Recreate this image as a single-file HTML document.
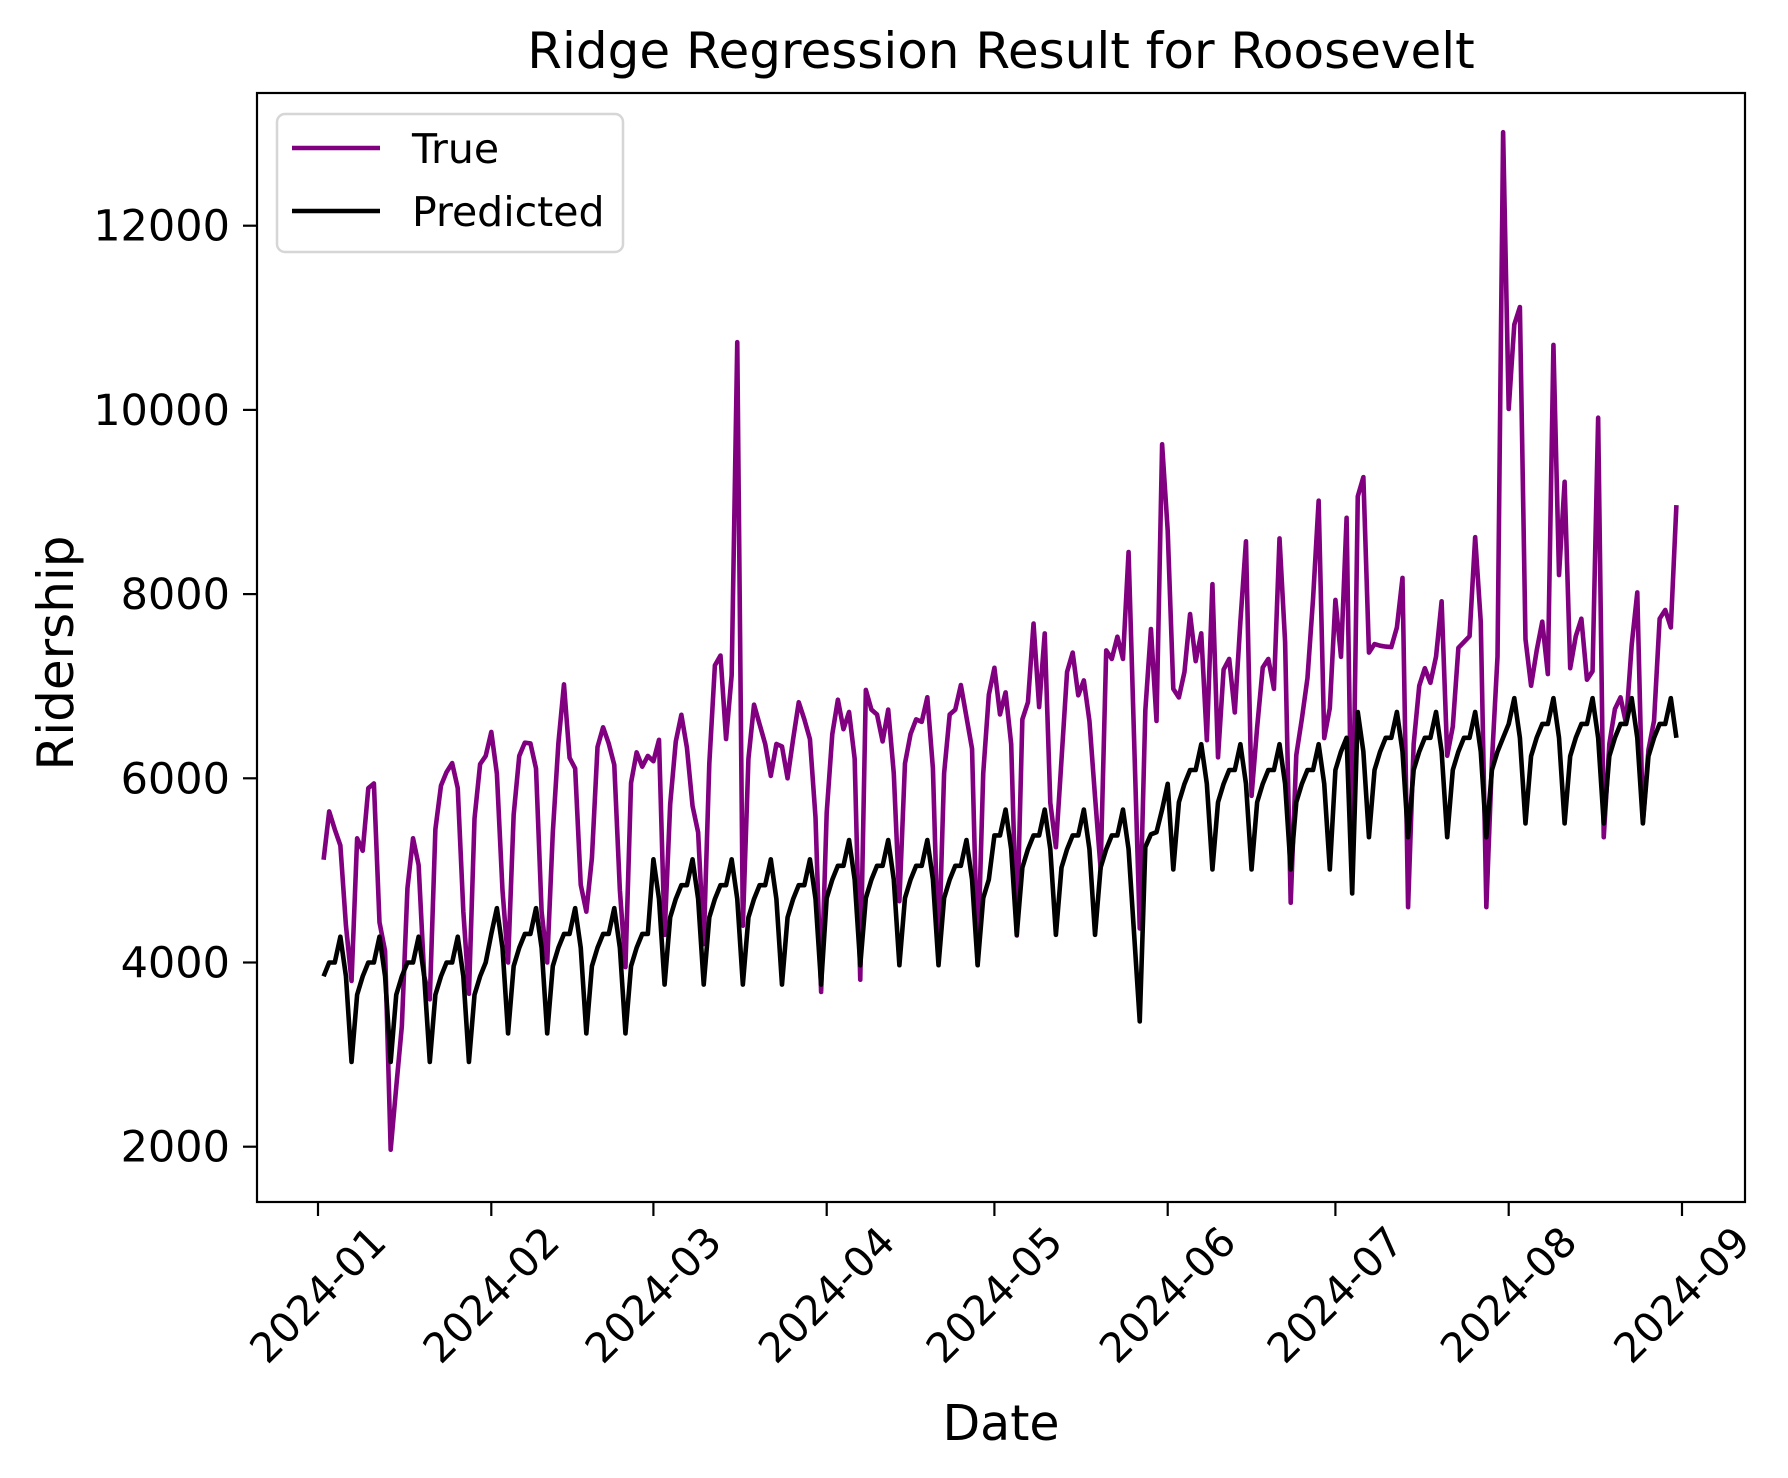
<!DOCTYPE html>
<html><head><meta charset="utf-8"><style>
html,body{margin:0;padding:0;background:#fff;}
svg{display:block;font-family:"DejaVu Sans","Liberation Sans",sans-serif;}
</style></head><body>
<svg id="chart" width="1788" height="1478" viewBox="0 0 1788 1478" xmlns="http://www.w3.org/2000/svg">
<rect x="0" y="0" width="1788" height="1478" fill="#fff"/>
<text x="1001" y="68" font-size="50" text-anchor="middle" fill="#000">Ridge Regression Result for Roosevelt</text>
<g id="plot"></g>
<rect x="257" y="93" width="1488" height="1109" fill="none" stroke="#000" stroke-width="2.2"/>
<g id="yticks"></g>
<g id="xticks"></g>
<text x="1001" y="1440" font-size="49" text-anchor="middle" fill="#000">Date</text>
<text x="0" y="0" font-size="50" text-anchor="middle" fill="#000" transform="translate(73,653) rotate(-90)">Ridership</text>
<g>
<rect x="277" y="114" width="346" height="138" rx="8" fill="#fff" fill-opacity="0.8" stroke="#d6d6d6" stroke-width="2.5"/>
<line x1="292" y1="148" x2="380" y2="148" stroke="#800080" stroke-width="4.6"/>
<text x="412" y="163" font-size="41" fill="#000">True</text>
<line x1="292" y1="211" x2="380" y2="211" stroke="#000" stroke-width="4.6"/>
<text x="412" y="226" font-size="41" fill="#000">Predicted</text>
</g>
</svg>
<script>
// day offsets from 2024-01-01; first value is 2024-01-02 (offset 1)
const startOffset = 1;
const trueValues = [
5116,5640,5446,5271,4400,3800,5349,5213,5893,5944,4436,4125,1968,2650,3309,4805,5349,5058,3853,3600,
5446,5920,6068,6165,5893,4552,3660,5563,6154,6243,6503,6049,4786,4000,5602,6243,6387,6379,6107,4552,
4000,5407,6379,7020,6223,6107,4844,4552,5135,6340,6554,6379,6146,4786,3950,5951,6282,6126,6243,6185,
6418,4300,5718,6398,6690,6330,5700,5413,4200,6160,7226,7333,6426,7120,10735,4400,6213,6800,6586,6373,
6026,6373,6346,6000,6427,6826,6640,6426,5573,3680,5626,6480,6853,6533,6720,6213,3813,6960,6746,6693,
6400,6746,6053,4666,6160,6480,6640,6613,6880,6106,4026,6053,6693,6746,7013,6666,6320,3973,6053,6906,
7200,6693,6933,6373,4293,6640,6826,7680,6773,7573,5733,5252,6200,7156,7365,6901,7063,6622,5800,5020,
7389,7296,7537,7296,8457,6400,4370,6738,7621,6622,9627,8689,6971,6878,7156,7783,7272,7574,6414,8108,
6228,7180,7296,6715,7700,8573,5810,6553,7203,7296,6971,8605,7481,4649,6251,6646,7087,7946,9014,6437,
6762,7937,7319,8828,4900,9061,9270,7365,7458,7440,7430,7425,7638,8176,4601,6372,7005,7195,7037,7321,
7922,6246,6562,7417,7480,7543,8618,7701,4601,6183,7322,13015,10010,10927,11117,7511,7005,7385,7701,7132,
10706,8207,9219,7195,7543,7733,7070,7163,9915,5360,6372,6752,6879,6594,7448,8018,5519,6310,6626,7733,
7828,7638,8966
];
const predictedValues = [
3850,4000,4000,4280,3850,2920,
3650,3850,4000,4000,4280,3850,2920,
3650,3850,4000,4000,4280,3850,2920,
3650,3850,4000,4000,4280,3850,2920,
3650,3850,4000,
4310,4590,4160,3230,
3960,4160,4310,4310,4590,4160,3230,
3960,4160,4310,4310,4590,4160,3230,
3960,4160,4310,4310,4590,4160,3230,
3960,4160,4310,4310,
5120,4690,3760,
4490,4690,4840,4840,5120,4690,3760,
4490,4690,4840,4840,5120,4690,3760,
4490,4690,4840,4840,5120,4690,3760,
4490,4690,4840,4840,5120,4690,3760,
4700,4900,5050,5050,5330,4900,3970,
4700,4900,5050,5050,5330,4900,3970,
4700,4900,5050,5050,5330,4900,3970,
4700,4900,5050,5050,5330,4900,3970,
4700,4900,
5380,5380,5660,5230,4300,
5030,5230,5380,5380,5660,5230,4300,
5030,5230,5380,5380,5660,5230,4300,
5030,5230,5380,5380,5660,5230,4300,
3360,5253,5392,5415,5660,
5940,5010,
5740,5940,6090,6090,6370,5940,5010,
5740,5940,6090,6090,6370,5940,5010,
5740,5940,6090,6090,6370,5940,5010,
5740,5940,6090,6090,6370,5940,5010,
6090,6290,6440,4750,6720,6290,5360,
6090,6290,6440,6440,6720,6290,5360,
6090,6290,6440,6440,6720,6290,5360,
6090,6290,6440,6440,6720,6290,5360,
6090,6290,6440,
6590,6870,6440,5510,
6240,6440,6590,6590,6870,6440,5510,
6240,6440,6590,6590,6870,6440,5510,
6240,6440,6590,6590,6870,6440,5510,
6240,6440,6590,6590,6870,6440
];
const yTickValues = [2000,4000,6000,8000,10000,12000];
const xTickLabels = ["2024-01","2024-02","2024-03","2024-04","2024-05","2024-06","2024-07","2024-08","2024-09"];
const xTickDays = [0,31,60,91,121,152,182,213,244];

const NS = "http://www.w3.org/2000/svg";
function xScale(day){ return 318 + day * (1682 - 318) / 244; }
function yScale(v){ return 1146.7 - (v - 2000) * (1146.7 - 225.7) / 10000; }

const plot = document.getElementById('plot');
function drawSeries(vals, color, name){
  let d = '';
  vals.forEach((v,i)=>{ d += (i?'L':'M') + xScale(startOffset+i).toFixed(2) + ',' + yScale(v).toFixed(2); });
  const p = document.createElementNS(NS,'path');
  p.setAttribute('d', d);
  p.setAttribute('fill','none');
  p.setAttribute('stroke', color);
  p.setAttribute('stroke-width','4.6');
  p.setAttribute('stroke-linejoin','round');
  
  
  plot.appendChild(p);
}
drawSeries(trueValues, '#800080', 'true-series-line');
drawSeries(predictedValues, '#000000', 'predicted-series-line');

const yg = document.getElementById('yticks');
yTickValues.forEach(v=>{
  const y = yScale(v);
  const l = document.createElementNS(NS,'line');
  l.setAttribute('x1',243); l.setAttribute('x2',257); l.setAttribute('y1',y); l.setAttribute('y2',y);
  l.setAttribute('stroke','#000'); l.setAttribute('stroke-width','2.2');
  
  
  yg.appendChild(l);
  const t = document.createElementNS(NS,'text');
  t.setAttribute('x',230); t.setAttribute('y',y+15);
  t.setAttribute('font-size','43'); t.setAttribute('text-anchor','end');
  t.textContent = v;
  
  
  yg.appendChild(t);
});
const xg = document.getElementById('xticks');
xTickDays.forEach((d,i)=>{
  const x = xScale(d);
  const l = document.createElementNS(NS,'line');
  l.setAttribute('x1',x); l.setAttribute('x2',x); l.setAttribute('y1',1202); l.setAttribute('y2',1216);
  l.setAttribute('stroke','#000'); l.setAttribute('stroke-width','2.2');
  
  
  xg.appendChild(l);
  const t = document.createElementNS(NS,'text');
  t.setAttribute('x',0); t.setAttribute('y',0);
  t.setAttribute('font-size','41'); t.setAttribute('text-anchor','middle');
  t.setAttribute('dominant-baseline','central');
  t.setAttribute('transform','translate('+x+',1295) rotate(-45)');
  t.textContent = xTickLabels[i];
  
  
  xg.appendChild(t);
});
</script>
</body></html>
